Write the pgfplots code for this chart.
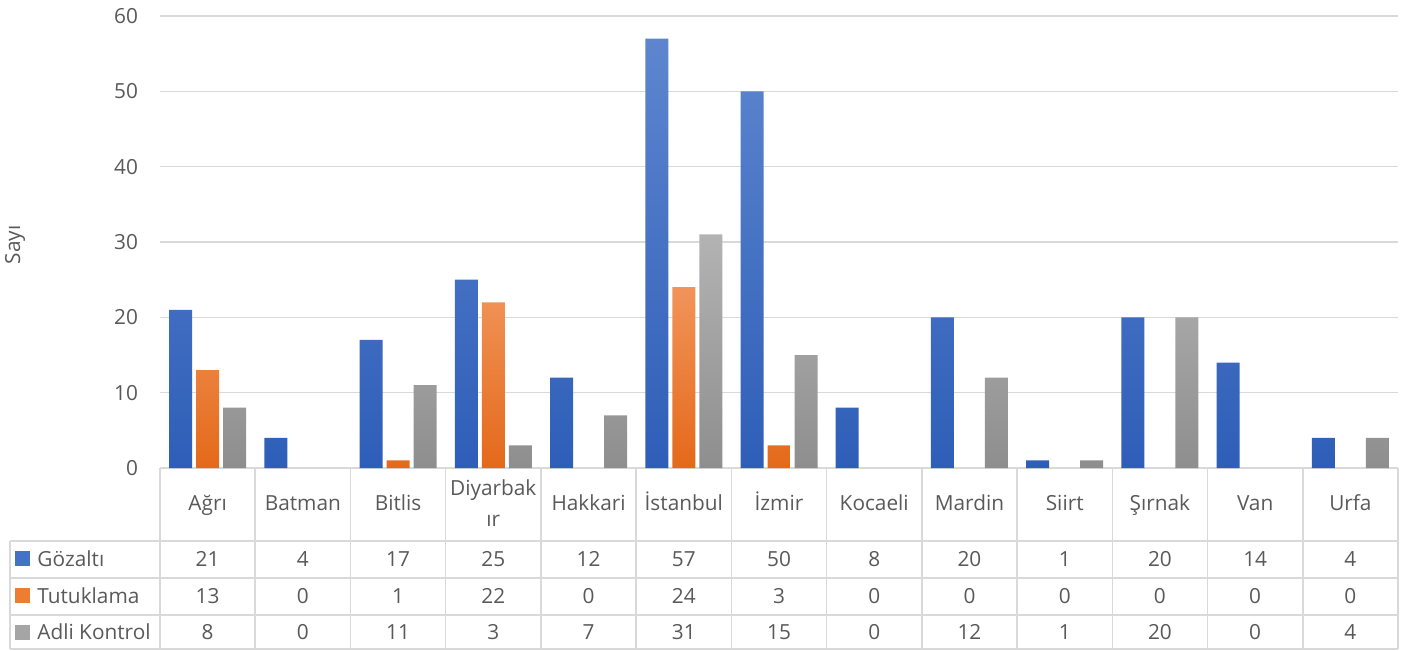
\documentclass[border=0pt]{standalone}
\usepackage{pgfplots}
\usepackage{pgfplotstable}
\pgfplotsset{compat=1.18}
\usepackage{fontspec}
\setmainfont{Open Sans}
\definecolor{txt}{HTML}{595959}
\definecolor{gridc}{HTML}{D9D9D9}
\definecolor{btop}{HTML}{5E86CF}
\definecolor{bbot}{HTML}{2E5EB8}
\definecolor{otop}{HTML}{F19459}
\definecolor{obot}{HTML}{E4691A}
\definecolor{gtop}{HTML}{B3B3B3}
\definecolor{gbot}{HTML}{8E8E8E}
\definecolor{bkey}{HTML}{4472C4}
\definecolor{okey}{HTML}{ED7D31}
\definecolor{gkey}{HTML}{A5A5A5}
\pgfplotstableread{
idx g t a
0 21 13 8
1 4 0 0
2 17 1 11
3 25 22 3
4 12 0 7
5 57 24 31
6 50 3 15
7 8 0 0
8 20 0 12
9 1 0 1
10 20 0 20
11 14 0 0
12 4 0 4
}\data
\begin{document}
\begin{tikzpicture}[x=0.5pt,y=0.5pt,font=\fontsize{10.4}{15.5}\selectfont,text=txt]
\begin{axis}[at={(80pt,91pt)}, anchor=south west, scale only axis,
  width=619pt, height=226pt,
  ymin=0, ymax=60, xmin=-0.5, xmax=12.5,
  ybar=2pt, bar width=11.5pt,
  ytick={0,10,...,60}, xtick=\empty,
  ymajorgrids, grid style={draw=gridc, line width=0.8pt},
  axis line style={draw=none}, major tick length=0pt,
  yticklabel style={font=\fontsize{10.4}{13}\selectfont, text=txt, xshift=-7.5pt},
  /pgf/number format/assume math mode=true,
  unbounded coords=discard,
  y filter/.expression={y==0 ? nan : y},
  clip=false]
\addplot[draw=none, top color=btop, bottom color=bbot] table[x=idx,y=g]{\data};
\addplot[draw=none, top color=otop, bottom color=obot] table[x=idx,y=t]{\data};
\addplot[draw=none, top color=gtop, bottom color=gbot] table[x=idx,y=a]{\data};
\end{axis}
% table grid
\foreach \yy in {109,72,35,1}{\draw[gridc, line width=0.8pt] (10,\yy) -- (1398,\yy);}
\foreach \k in {0,...,13}{\draw[gridc, line width=0.8pt] ({160+95.23*\k},182) -- ({160+95.23*\k},1);}
\draw[gridc, line width=0.8pt] (10,109) -- (10,1);
% category names
\foreach \n [count=\i from 0] in {Ağrı,Batman,Bitlis,,Hakkari,İstanbul,İzmir,Kocaeli,Mardin,Siirt,Şırnak,Van,Urfa}{
  \node[anchor=base] at ({160+95.23*(\i+0.5)},140) {\n};
}
\node[align=center] at ({160+95.23*3.5},147) {Diyarbak\\ır};
% values
\foreach \i in {0,...,12}{
  \pgfmathsetmacro\cx{160+95.23*(\i+0.5)}
  \pgfplotstablegetelem{\i}{g}\of\data \node at (\cx,91) {\pgfplotsretval};
  \pgfplotstablegetelem{\i}{t}\of\data \node at (\cx,54) {\pgfplotsretval};
  \pgfplotstablegetelem{\i}{a}\of\data \node at (\cx,18) {\pgfplotsretval};
}
% legend keys
\fill[bkey] (15,84) rectangle (30,99);
\fill[okey] (15,47) rectangle (30,62);
\fill[gkey] (15,10) rectangle (30,25);
\node[anchor=west, inner sep=0pt] at (37,91) {Gözaltı};
\node[anchor=west, inner sep=0pt] at (37,54) {Tutuklama};
\node[anchor=west, inner sep=0pt] at (37,18) {Adli Kontrol};
\node[rotate=90] at (15,405) {Sayı};
\pgfresetboundingbox
\path (0,0) rectangle (1416,650);
\end{tikzpicture}
\end{document}
